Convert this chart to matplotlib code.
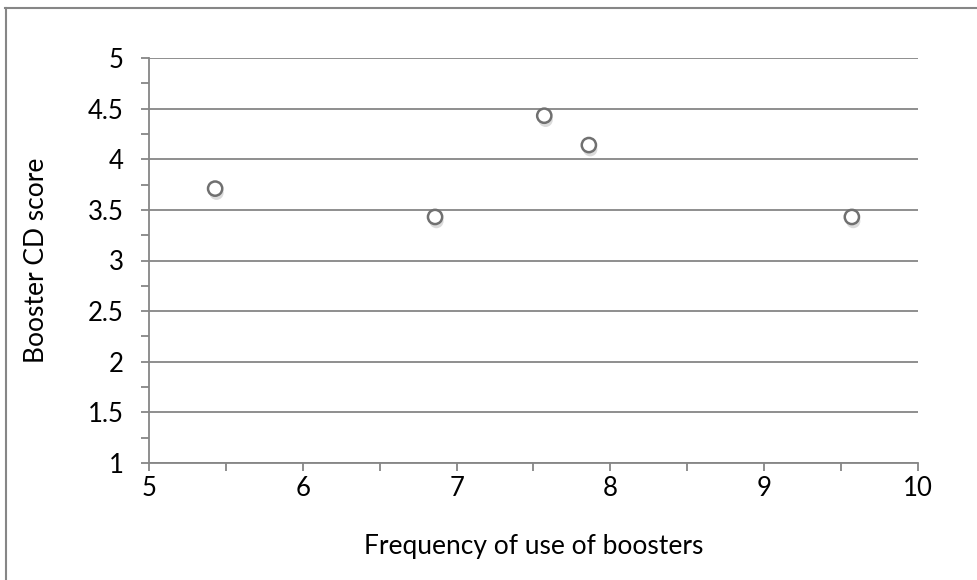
import matplotlib
matplotlib.use("Agg")
import matplotlib.pyplot as plt
from matplotlib.lines import Line2D
from matplotlib.ticker import MultipleLocator, FuncFormatter
import matplotlib.patheffects as pe

freq = [5.43, 6.86, 7.57, 7.86, 9.57]
score = [3.71, 3.43, 4.43, 4.14, 3.43]
x_label = "Frequency of use of boosters"
y_label = "Booster CD score"

plt.rcParams['font.family'] = ['Lato', 'DejaVu Sans']

fig = plt.figure(figsize=(9.78, 5.8), dpi=100)
ax = fig.add_axes([149/978, 1-463/580, (918-149)/978, (463-58)/580])

grey = '#868686'
ax.set_xlim(5, 10)
ax.set_ylim(1, 5)
ax.xaxis.set_major_locator(MultipleLocator(1))
ax.xaxis.set_minor_locator(MultipleLocator(0.5))
ax.yaxis.set_major_locator(MultipleLocator(0.5))
ax.yaxis.set_minor_locator(MultipleLocator(0.25))
ax.yaxis.set_major_formatter(FuncFormatter(lambda v, p: f"{v:g}"))
ax.grid(axis='y', which='major', color=grey, linewidth=1.3)
ax.set_axisbelow(True)
for s in ['top', 'right']:
    ax.spines[s].set_visible(False)
for s in ['left', 'bottom']:
    ax.spines[s].set_color(grey)
    ax.spines[s].set_linewidth(1.3)
ax.tick_params(which='both', direction='out', color=grey, width=1.3, labelsize=18.5)
ax.tick_params(which='major', length=6)
ax.tick_params(which='minor', length=6)
ax.tick_params(axis='x', pad=3)
ax.tick_params(axis='y', pad=12)

ax.scatter(freq, score, s=105, facecolor='white', edgecolor='#707070', linewidth=1.8, zorder=3,
           path_effects=[pe.SimplePatchShadow(offset=(1, -3), alpha=0.2), pe.Normal()])

ax.set_xlabel(x_label, fontsize=19, labelpad=24)
ax.set_ylabel(y_label, fontsize=19, labelpad=28)

fig.add_artist(Line2D([5/978, 1.0], [1-8/580, 1-8/580], color=grey, linewidth=1.5))
fig.add_artist(Line2D([5.5/978, 5.5/978], [0, 1-8/580], color=grey, linewidth=1.5))

fig.savefig("out.png", dpi=100)
